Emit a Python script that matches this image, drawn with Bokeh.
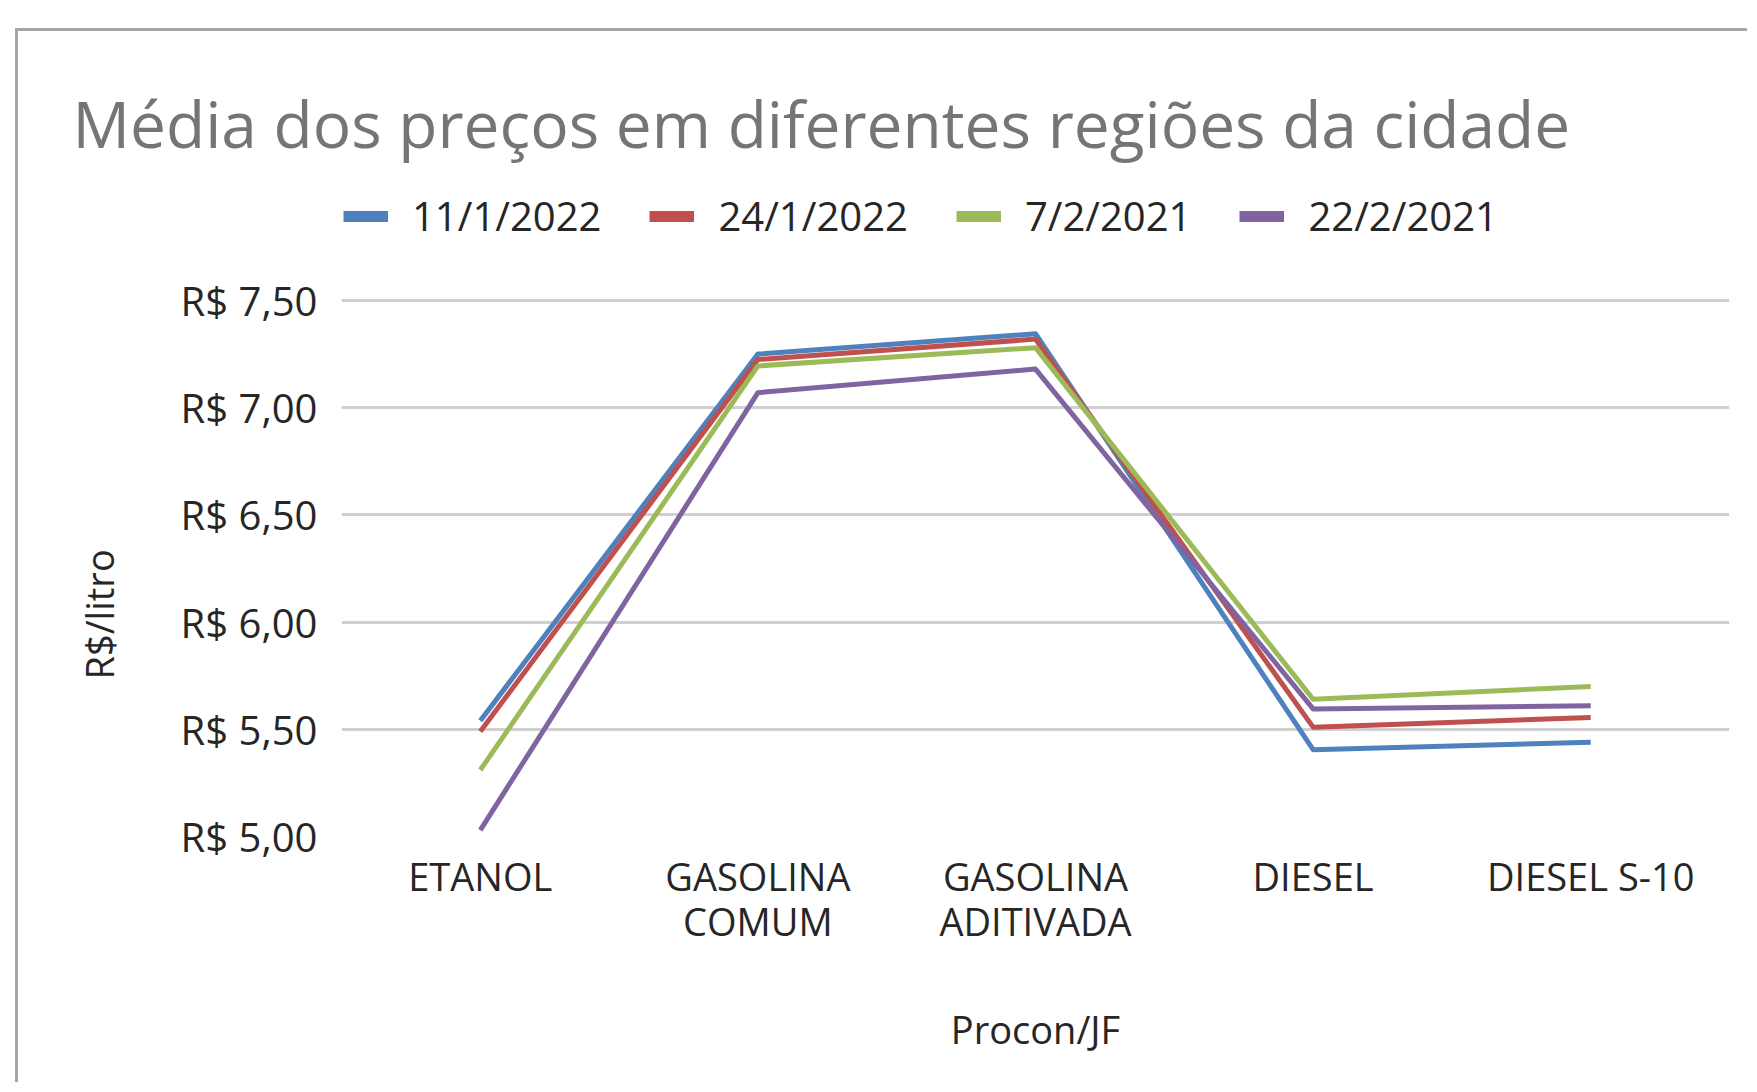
from bokeh.plotting import figure
from bokeh.models import (FactorRange, Range1d, FixedTicker, Legend, LegendItem, Title)
from bokeh.embed import file_html
from bokeh.resources import INLINE

# ---- data ----
categories = ["ETANOL", "GASOLINA\nCOMUM", "GASOLINA\nADITIVADA", "DIESEL", "DIESEL S-10"]
series_names = ["11/1/2022", "24/1/2022", "7/2/2021", "22/2/2021"]
s_11_1_2022 = [5.54, 7.25, 7.345, 5.405, 5.44]
s_24_1_2022 = [5.49, 7.225, 7.32, 5.51, 5.555]
s_7_2_2021 = [5.31, 7.195, 7.28, 5.64, 5.70]
s_22_2_2021 = [5.03, 7.07, 7.18, 5.595, 5.61]
y_ticks = [5.0, 5.5, 6.0, 6.5, 7.0, 7.5]
y_tick_labels = ["R$ 5,00", "R$ 5,50", "R$ 6,00", "R$ 6,50", "R$ 7,00", "R$ 7,50"]
colors = ["#4f81bd", "#c0504d", "#9bbb59", "#8064a2"]

FONT = "Open Sans"
TXT = "#262626"

# the frame reaches up into the legend band (no grid lines there)
p = figure(width=1732, height=1054, output_backend="svg", toolbar_location=None,
           x_range=FactorRange(*categories, range_padding=0),
           y_range=Range1d(y_ticks[0], 8.0597),
           min_border_left=323, min_border_right=21, min_border_top=149,
           min_border_bottom=249)
p.margin = (28, 0, 0, 15)
p.styles = {"border-top": "3px solid #a6a6a6", "border-left": "3px solid #a6a6a6"}
p.outline_line_color = None
p.background_fill_color = "white"
p.border_fill_color = "white"

all_series = [s_11_1_2022, s_24_1_2022, s_7_2_2021, s_22_2_2021]
for vals, c in zip(all_series, colors):
    p.line(x=categories, y=vals, line_color=c, line_width=5, line_join="round")

# legend with thick markers (renderers that draw nothing in the plot)
items = []
for name, c in zip(series_names, colors):
    r = p.line(x=[categories[0]], y=[float("nan")], line_color=c, line_width=11)
    items.append(LegendItem(label=name, renderers=[r]))
legend = Legend(items=items, orientation="horizontal", location=(2, 593),
                glyph_width=45, glyph_height=40, label_height=40,
                label_standoff=24, spacing=48, padding=0, margin=0,
                label_text_font=FONT, label_text_font_size="40px",
                label_text_color=TXT, border_line_alpha=0,
                background_fill_alpha=0)
p.add_layout(legend, "center")

# title
p.title = Title(text="Média dos preços em diferentes regiões da cidade",
                text_font=FONT, text_font_size="64px", text_color="#757575",
                text_font_style="normal", align="left", offset=-269, standoff=28)

# y axis title as a side title (rotated)
p.add_layout(Title(text="R$/litro", text_font=FONT, text_font_size="38px",
                   text_color=TXT, text_font_style="normal", align="left",
                   offset=157, standoff=105), "left")

# axes
p.yaxis.ticker = FixedTicker(ticks=y_ticks)
p.yaxis.major_label_overrides = dict(zip(y_ticks, y_tick_labels))
p.yaxis.major_label_text_font = FONT
p.yaxis.major_label_text_font_size = "40px"
p.yaxis.major_label_text_color = TXT
p.yaxis.major_label_standoff = 18
p.yaxis.axis_line_color = None
p.yaxis.major_tick_line_color = None
p.yaxis.minor_tick_line_color = None

p.xaxis.major_label_text_font = FONT
p.xaxis.major_label_text_font_size = "38px"
p.xaxis.major_label_text_color = TXT
p.xaxis.major_label_text_line_height = 0.88
p.xaxis.major_label_standoff = 7
p.xaxis.axis_line_color = None
p.xaxis.major_tick_line_color = None
p.xaxis.axis_label = "Procon/JF"
p.xaxis.axis_label_text_font = FONT
p.xaxis.axis_label_text_font_size = "38px"
p.xaxis.axis_label_text_font_style = "normal"
p.xaxis.axis_label_text_color = TXT
p.xaxis.axis_label_standoff = 53

p.xgrid.grid_line_color = None
p.ygrid.ticker = FixedTicker(ticks=y_ticks)
p.ygrid.grid_line_color = "#d0d0d0"
p.ygrid.grid_line_width = 3

open("out.html", "w").write(file_html(p, INLINE))
